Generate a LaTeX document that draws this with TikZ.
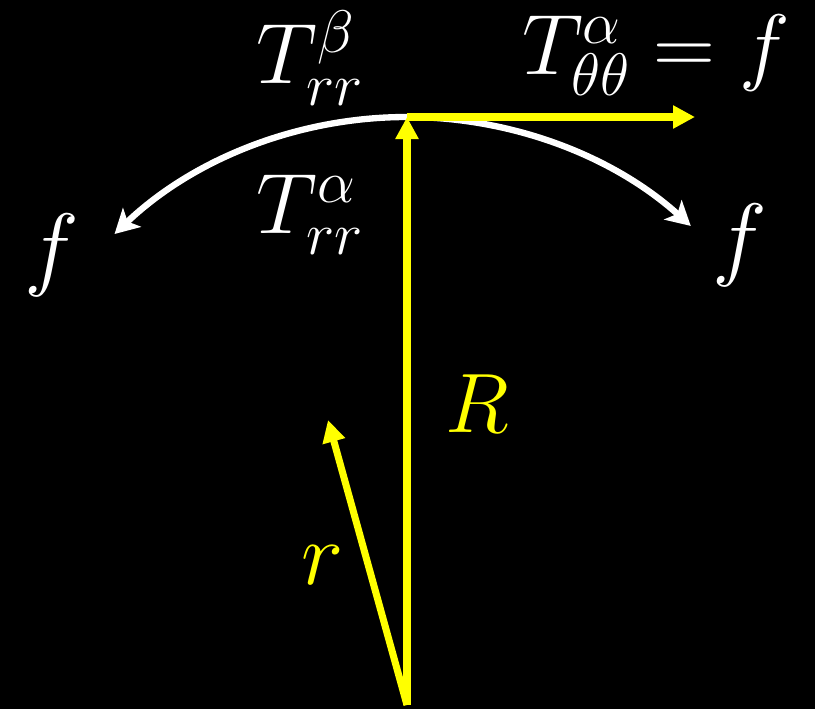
\documentclass[tikz,border=0pt]{standalone}
\usepackage{fix-cm}
\usepackage{fontspec}
\usetikzlibrary{arrows.meta,positioning}

\begin{document}
\begin{tikzpicture}[x=0.025cm, y=-0.025cm, >={Triangle[length=0.55cm,width=0.55cm]}, font=\fontsize{61}{70}\selectfont, inner sep=0pt]
\definecolor{vecyellow}{HTML}{FFFF00}
\definecolor{backblack}{HTML}{000000}
\fill[backblack] (0,0) rectangle (815,709);
\coordinate (base) at (407,705);
\coordinate (top) at (407,117);
\coordinate (rtip) at (328,420);
\coordinate (thetatip) at (695,117);
\draw[->, white, line width=4.5pt, >={Stealth[length=0.6cm,width=0.65cm,inset=0.15cm]}] (top) arc[start angle=90, end angle=133.6, radius=10.6cm];
\draw[->, white, line width=4.5pt, >={Stealth[length=0.6cm,width=0.65cm,inset=0.15cm]}] (top) arc[start angle=90, end angle=48, radius=10.6cm];
\draw[->, vecyellow, line width=5pt] (base) -- (top);
\draw[->, vecyellow, line width=5pt] (top) -- (thetatip);
\draw[->, vecyellow, line width=5pt] (base) -- (rtip);
\node[text=white] (Tbeta) at (310,58) {$T^{\beta}_{rr}$};
\node[text=white] (Ttheta) at (656,55) {$T^{\alpha}_{\theta\theta}=f$};
\node[text=white] (Talpha) at (310,215) {$T^{\alpha}_{rr}$};
\node[text=white, font=\fontsize{66}{72}\selectfont] (fleft) at (52,255) {$f$};
\node[text=white, font=\fontsize{66}{72}\selectfont] (fright) at (740,245) {$f$};
\node[text=vecyellow, font=\fontsize{60}{68}\selectfont] (Rlab) at (477,404) {$R$};
\node[text=vecyellow, font=\fontsize{64}{70}\selectfont] (rlab) at (323,565) {$r$};
\end{tikzpicture}
\end{document}
